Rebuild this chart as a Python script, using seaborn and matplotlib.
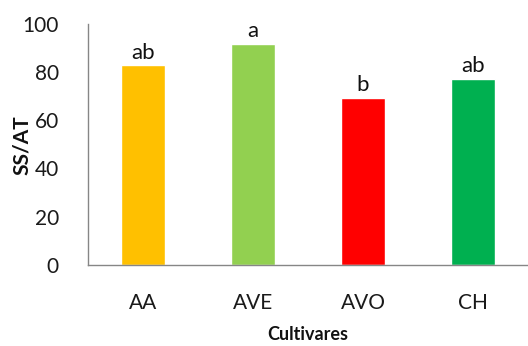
import matplotlib
matplotlib.use("Agg")
import matplotlib.pyplot as plt
import seaborn as sns
import pandas as pd
import numpy as np

# data
cultivares = ["AA", "AVE", "AVO", "CH"]
ss_at = [82.7, 91.6, 69.3, 77.1]
letras = ["ab", "a", "b", "ab"]
cores = ["#FFC000", "#92D050", "#FF0000", "#00B050"]

sns.set_style("white")
plt.rcParams['font.family'] = ['Lato', 'DejaVu Sans']

df = pd.DataFrame({"Cultivares": cultivares, "SS/AT": ss_at})

fig = plt.figure(figsize=(5.28, 3.46), dpi=100)
ax = fig.add_axes([88/528, 1 - 265/346, 1 - 88/528, (265 - 23.5)/346])

sns.barplot(data=df, x="Cultivares", y="SS/AT", hue="Cultivares",
            palette=cores, width=0.4, legend=False, ax=ax, saturation=1)

# letters above bars
for i, (v, l) in enumerate(zip(ss_at, letras)):
    ax.annotate(l, (i, v), xytext=(0, 2), textcoords="offset points",
                ha="center", va="bottom", fontsize=16, color="#111111")

ax.set_ylim(0, 100)
ax.set_xlim(-0.5, 3.5)
ax.set_yticks(np.arange(0, 101, 20))

# boundaries as major ticks, names as minor ticks
ax.set_xticks([-0.5, 0.5, 1.5, 2.5])
ax.set_xticklabels([])
ax.set_xticks(range(len(cultivares)), minor=True)
ax.set_xticklabels(cultivares, minor=True)
ax.tick_params(axis="x", which="major", length=7, width=1, color="#868686", direction="out")
ax.tick_params(axis="x", which="minor", length=0, pad=20, labelsize=15, labelcolor="#1a1a1a")
ax.tick_params(axis="y", length=5, width=1, color="#868686", direction="out",
               pad=16, labelsize=15, labelcolor="#1a1a1a")

sns.despine(ax=ax, top=True, right=True)
for s in ["left", "bottom"]:
    ax.spines[s].set_color("#868686")
    ax.spines[s].set_linewidth(1)

ax.set_xlabel("Cultivares", fontsize=13, fontweight="bold", color="#111111")
ax.set_ylabel("SS/AT", fontsize=15, fontweight="bold", color="#111111")
ax.xaxis.label.set_va("top")
ax.yaxis.label.set_va("center")

# place axis labels in figure pixel positions
ax.xaxis.set_label_coords(308/528, 1 - 326/346, transform=fig.transFigure)
ax.yaxis.set_label_coords(22/528, 1 - 145/346, transform=fig.transFigure)

fig.savefig("out.png", dpi=100)
